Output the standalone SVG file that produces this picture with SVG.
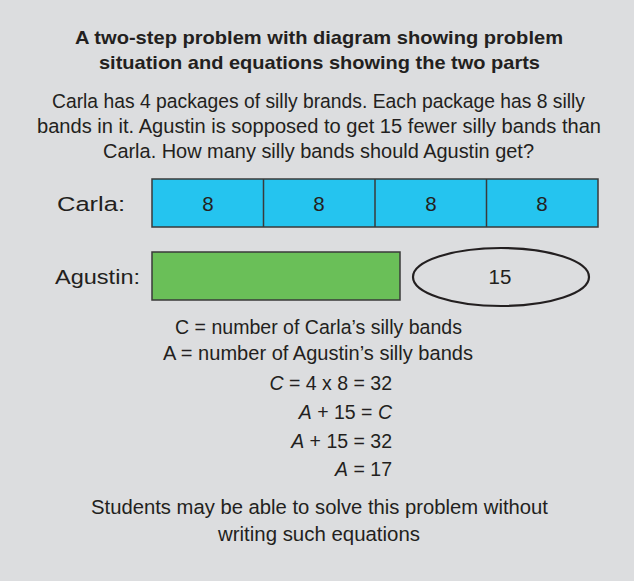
<svg xmlns="http://www.w3.org/2000/svg" width="634" height="581" viewBox="0 0 634 581">
<style>
.t{font-family:"Liberation Sans","DejaVu Sans",sans-serif;fill:#231f20;text-anchor:middle}
.b{font-weight:bold;font-size:18.5px}
.n{font-size:20.5px}
.q{font-size:19.5px;text-anchor:end}
.bar{stroke:#3a3a3a;stroke-width:1.5}
.i{font-style:italic}
</style>
<rect x="0" y="0" width="634" height="581" fill="#dcdddf"/>
<g id="title">
<text class="t b" x="319" y="44" textLength="488" lengthAdjust="spacingAndGlyphs">A two-step problem with diagram showing problem</text>
<text class="t b" x="319.5" y="69" textLength="441" lengthAdjust="spacingAndGlyphs">situation and equations showing the two parts</text>
</g>
<g id="problem">
<text class="t n" x="318.5" y="108" textLength="533" lengthAdjust="spacingAndGlyphs">Carla has 4 packages of silly brands.  Each package has 8 silly</text>
<text class="t n" x="319" y="133" textLength="564" lengthAdjust="spacingAndGlyphs">bands in it.  Agustin is sopposed to get 15 fewer silly bands than</text>
<text class="t n" x="318.5" y="158" textLength="431" lengthAdjust="spacingAndGlyphs">Carla.  How many silly bands should Agustin get?</text>
</g>
<g id="carla">
<text class="t n" x="91" y="211" textLength="68" lengthAdjust="spacingAndGlyphs">Carla:</text>
<rect class="bar" x="152" y="179" width="446" height="48" fill="#25c4ef"/>
<line class="bar" x1="263.5" y1="179" x2="263.5" y2="227"/>
<line class="bar" x1="375" y1="179" x2="375" y2="227"/>
<line class="bar" x1="486.5" y1="179" x2="486.5" y2="227"/>
<text class="t n" x="208" y="211">8</text>
<text class="t n" x="319" y="211">8</text>
<text class="t n" x="431" y="211">8</text>
<text class="t n" x="542" y="211">8</text>
</g>
<g id="agustin">
<text class="t n" x="97.5" y="284" textLength="85" lengthAdjust="spacingAndGlyphs">Agustin:</text>
<rect class="bar" x="152" y="252" width="248" height="48" fill="#6abf58"/>
</g>
<g id="fifteen">
<ellipse cx="501" cy="277" rx="88" ry="29" fill="none" stroke="#231f20" stroke-width="2.2"/>
<text class="t n" x="500" y="284">15</text>
</g>
<g id="equations">
<text class="t n" x="318.5" y="334" textLength="287" lengthAdjust="spacingAndGlyphs">C = number of Carla’s silly bands</text>
<text class="t n" x="318" y="360" textLength="310" lengthAdjust="spacingAndGlyphs">A = number of Agustin’s silly bands</text>
<text class="t q" x="392" y="390"><tspan class="i">C</tspan> = 4 x 8 = 32</text>
<text class="t q" x="392" y="419"><tspan class="i">A</tspan> + 15 = <tspan class="i">C</tspan></text>
<text class="t q" x="392" y="448"><tspan class="i">A</tspan> + 15 = 32</text>
<text class="t q" x="392" y="476"><tspan class="i">A</tspan> = 17</text>
</g>
<g id="note">
<text class="t n" x="319.5" y="514" textLength="457" lengthAdjust="spacingAndGlyphs">Students may be able to solve this problem without</text>
<text class="t n" x="319" y="541" textLength="202" lengthAdjust="spacingAndGlyphs">writing such equations</text>
</g>
<g id="connectors"></g>
</svg>
